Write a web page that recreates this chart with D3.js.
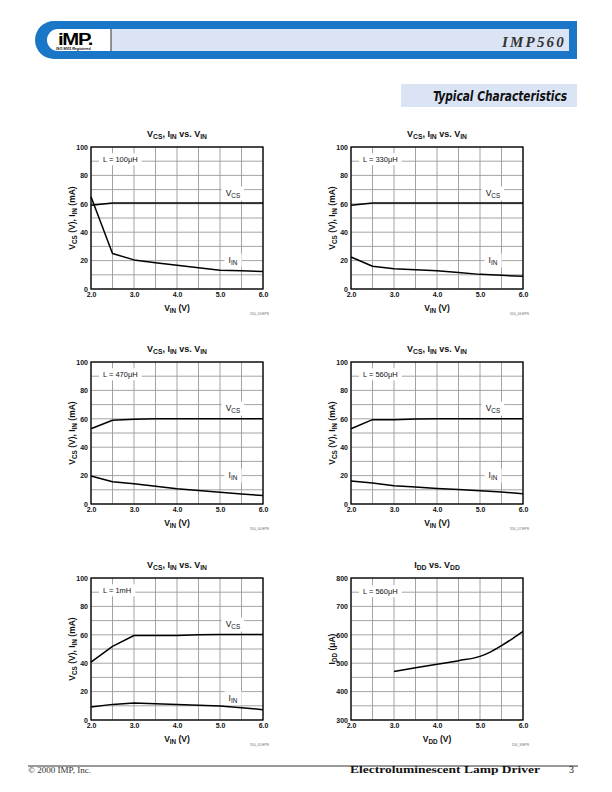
<!DOCTYPE html>
<html><head><meta charset="utf-8">
<script src="https://cdn.jsdelivr.net/npm/d3@7"></script>
<style>body{margin:0;background:#fff}svg{display:block}</style>
</head><body>
<script>
// ---- data ----
const vin = [2.0, 2.5, 3.0, 3.5, 4.0, 4.5, 5.0, 5.5, 6.0];
const vcs100 = [59, 60.5, 60.5, 60.5, 60.5, 60.5, 60.5, 60.5, 60.5];
const iin100 = [65, 25, 20.5, 18.5, 16.7, 15, 13.2, 12.8, 12.4];
const vcs330 = [59, 60.5, 60.5, 60.5, 60.5, 60.5, 60.5, 60.5, 60.5];
const iin330 = [22.5, 16, 14.3, 13.6, 12.9, 11.6, 10.3, 9.6, 9];
const vcs470 = [53, 59, 59.6, 60, 60, 60, 60, 60, 60];
const iin470 = [19.7, 15.7, 14.3, 12.5, 10.8, 9.5, 8.2, 7, 5.9];
const vcs560 = [53, 59.4, 59.4, 59.8, 60.1, 60.1, 60.1, 60.1, 60.1];
const iin560 = [16.2, 14.8, 12.9, 11.9, 11, 10.2, 9.4, 8.4, 7.3];
const vcs1m = [40.7, 51.8, 59.5, 59.5, 59.5, 60, 60.2, 60.2, 60.2];
const iin1m = [9.1, 11, 12, 11.5, 11, 10.4, 9.8, 8.6, 7.3];
const vdd = [3.0, 3.5, 4.0, 4.5, 5.0, 5.25, 5.5, 5.75, 6.0];
const idd = [471, 484, 496, 509, 524, 540, 562, 586, 612];
const xTickLabels = ["2.0", "3.0", "4.0", "5.0", "6.0"];
const inductors = ["L = 100\u03BCH", "L = 330\u03BCH", "L = 470\u03BCH", "L = 560\u03BCH", "L = 1mH", "L = 560\u03BCH"];
const fileCodes = ["550_03.EPS", "550_06.EPS", "550_04.EPS", "550_07.EPS", "550_05.EPS", "550_8.EPS"];

const svg = d3.select("body").append("svg").attr("width", 612).attr("height", 792);
svg.append("rect").attr("width", 612).attr("height", 792).attr("fill", "#fff");

// ---- header ----
const BLUE = "#1a76c6", LIGHT = "#dae4f4";
svg.append("path").attr("d", "M577,21 L54,21 A19,19 0 0 0 35,40 A19,19 0 0 0 54,59 L577,59 Z").attr("fill", BLUE);
svg.append("rect").attr("x", 111).attr("y", 29).attr("width", 458).attr("height", 22).attr("fill", LIGHT);
svg.append("path").attr("d", "M111,29 L58,29 A11,11 0 0 0 47,40 A11,11 0 0 0 58,51 L111,51 Z").attr("fill", "#fff");
svg.append("line").attr("x1", 111).attr("x2", 111).attr("y1", 29).attr("y2", 51).attr("stroke", "#000").attr("stroke-width", 0.8);
svg.append("text").attr("x", 58).attr("y", 45).attr("font-family", "Liberation Sans, Arial, sans-serif")
  .attr("font-weight", "bold").attr("font-size", 16).attr("letter-spacing", -1).attr("textLength", 34).attr("lengthAdjust", "spacingAndGlyphs").text("iMP.");
svg.append("text").attr("x", 56).attr("y", 49.5).attr("font-family", "Liberation Sans, Arial, sans-serif")
  .attr("font-weight", "bold").attr("font-style", "italic").attr("font-size", 3.6).text("ISO 9001 Registered");
svg.append("text").attr("x", 566).attr("y", 47).attr("text-anchor", "end")
  .attr("font-family", "Liberation Serif, Times New Roman, serif").attr("font-weight", "bold").attr("font-style", "italic")
  .attr("font-size", 15).attr("letter-spacing", 2.2).attr("fill", "#333").text("IMP560");

svg.append("rect").attr("x", 401).attr("y", 84).attr("width", 176).attr("height", 23).attr("fill", LIGHT);
svg.append("text").attr("x", 433).attr("y", 101).attr("textLength", 134).attr("lengthAdjust", "spacingAndGlyphs")
  .attr("font-family", "Liberation Sans Narrow, DejaVu Sans Condensed, Liberation Sans, sans-serif")
  .attr("font-weight", "bold").attr("font-style", "italic").attr("font-size", 14).attr("fill", "#111").text("Typical Characteristics");

// ---- helpers ----
const FONT = "Liberation Sans, Arial, Helvetica, sans-serif";
function richText(g, x, y, parts, size, anchor, weight) {
  const t = g.append("text").attr("x", x).attr("y", y).attr("text-anchor", anchor || "middle")
    .attr("font-family", FONT).attr("font-weight", weight || "bold").attr("font-size", size).attr("fill", "#111");
  let down = false;
  parts.forEach(p => {
    const ts = t.append("tspan").text(p[0]);
    if (p[1]) { ts.attr("font-size", size * 0.75); if (!down) { ts.attr("dy", size * 0.25); down = true; } }
    else { ts.attr("font-size", size); if (down) { ts.attr("dy", -size * 0.25); down = false; } }
  });
  return t;
}

function chart(opt) {
  const { x0, y0, w, h, xDom, yDom, yStep, yLabelStep, series, title, xTitle, yTitle, Ltext, labels, code, curve } = opt;
  const g = svg.append("g");
  const x = d3.scaleLinear().domain(xDom).range([x0, x0 + w]);
  const y = d3.scaleLinear().domain(yDom).range([y0 + h, y0]);
  const xGrid = d3.range(xDom[0], xDom[1] + 0.001, 0.5);
  const yGrid = d3.range(yDom[0], yDom[1] + 0.001, yStep);
  // grid
  g.append("g").selectAll("line").data(xGrid).join("line")
    .attr("x1", d => x(d)).attr("x2", d => x(d)).attr("y1", y0).attr("y2", y0 + h)
    .attr("stroke", "#9a9a9a").attr("stroke-width", 0.9);
  g.append("g").selectAll("line").data(yGrid).join("line")
    .attr("y1", d => y(d)).attr("y2", d => y(d)).attr("x1", x0).attr("x2", x0 + w)
    .attr("stroke", "#9a9a9a").attr("stroke-width", 0.9);
  // axes labels
  const xAxis = d3.axisBottom(x).tickValues(xTickLabels.map(Number)).tickSize(0).tickPadding(3).tickFormat(d => d.toFixed(1));
  const xa = g.append("g").attr("transform", `translate(0,${y0 + h})`).call(xAxis);
  xa.select(".domain").remove();
  xa.selectAll("text").attr("font-family", FONT).attr("font-weight", "bold").attr("font-size", 7).attr("fill", "#111");
  const yTicks = d3.range(yDom[0], yDom[1] + 0.001, yLabelStep);
  const yAxis = d3.axisLeft(y).tickValues(yTicks).tickSize(0).tickPadding(3).tickFormat(d3.format("d"));
  const ya = g.append("g").attr("transform", `translate(${x0},0)`).call(yAxis);
  ya.select(".domain").remove();
  ya.selectAll("text").attr("font-family", FONT).attr("font-weight", "bold").attr("font-size", 7).attr("fill", "#111");
  // label boxes
  const lg = g.append("g");
  function boxLabel(px, py, parts, size, anchor) {
    const t = richText(lg, px, py, parts, size, anchor, "normal");
    const bb = t.node().getBBox();
    lg.insert("rect", () => t.node()).attr("x", bb.x - 4).attr("y", bb.y - 1.5).attr("width", bb.width + 8).attr("height", bb.height + 3).attr("fill", "#fff");
    return t;
  }
  boxLabel(x(xDom[0]) + 12, y(opt.Ly) + 2.7, [[Ltext]], 7.5, "start");
  labels.forEach(l => boxLabel(x(l.x), y(l.y) + 3, l.parts, 8.5, "middle"));
  // lines
  const line = d3.line().x(d => x(d[0])).y(d => y(d[1])).curve(curve || d3.curveLinear);
  series.forEach(s => {
    g.append("path").datum(s.xs.map((v, i) => [v, s.ys[i]])).attr("d", line)
      .attr("fill", "none").attr("stroke", "#000").attr("stroke-width", 1.5).attr("stroke-linejoin", "round");
  });
  // frame
  g.append("rect").attr("x", x0).attr("y", y0).attr("width", w).attr("height", h)
    .attr("fill", "none").attr("stroke", "#000").attr("stroke-width", 1.3);
  // titles
  richText(g, x0 + w / 2, y0 - 10, title, 9, "middle", "bold");
  richText(g, x0 + w / 2, y0 + h + 22, xTitle, 8.5, "middle", "bold");
  const yt = richText(g, 0, 0, yTitle, 8.5, "middle", "bold");
  yt.attr("transform", `translate(${x0 - 16},${y0 + h / 2}) rotate(-90)`);
  g.append("text").attr("x", x0 + w + 6).attr("y", y0 + h + 26).attr("text-anchor", "end")
    .attr("font-family", FONT).attr("font-size", 3.4).attr("fill", "#666").text(code);
}

const vinTitle = [["V"], ["CS", 1], [", I"], ["IN", 1], [" vs. V"], ["IN", 1]];
const vinX = [["V"], ["IN", 1], [" (V)"]];
const vinY = [["V"], ["CS", 1], [" (V), I"], ["IN", 1], [" (mA)"]];
const lbl = (vy, iy) => [
  { x: 5.3, y: vy, parts: [["V"], ["CS", 1]] },
  { x: 5.3, y: iy, parts: [["I"], ["IN", 1]] }
];

const cols = [91, 351], rows = [147, 362, 578];
const W = 172, H = 142;
const sets = [[vcs100, iin100], [vcs330, iin330], [vcs470, iin470], [vcs560, iin560], [vcs1m, iin1m]];
sets.forEach((s, i) => {
  chart({
    x0: cols[i % 2], y0: rows[Math.floor(i / 2)], w: W, h: H,
    xDom: [2, 6], yDom: [0, 100], yStep: 10, yLabelStep: 20,
    series: [{ xs: vin, ys: s[0] }, { xs: vin, ys: s[1] }],
    title: vinTitle, xTitle: vinX, yTitle: vinY,
    Ltext: inductors[i], Ly: 91.5,
    labels: i === 4 ? lbl(67.7, 15.7) : lbl(67.6, 20.4),
    code: fileCodes[i]
  });
});
chart({
  x0: cols[1], y0: rows[2], w: W, h: H,
  xDom: [2, 6], yDom: [300, 800], yStep: 50, yLabelStep: 100,
  series: [{ xs: vdd, ys: idd }],
  title: [["I"], ["DD", 1], [" vs. V"], ["DD", 1]],
  xTitle: [["V"], ["DD", 1], [" (V)"]],
  yTitle: [["I"], ["DD", 1], [" (\u03BCA)"]],
  Ltext: inductors[5], Ly: 754,
  labels: [], code: fileCodes[5], curve: d3.curveMonotoneX
});

// ---- footer ----
svg.append("line").attr("x1", 28).attr("x2", 578).attr("y1", 766).attr("y2", 766).attr("stroke", "#000").attr("stroke-width", 0.8);
svg.append("text").attr("x", 28).attr("y", 773).attr("font-family", "Liberation Serif, serif").attr("font-size", 7.5)
  .attr("textLength", 63).attr("lengthAdjust", "spacingAndGlyphs").attr("fill", "#333").text("\u00A9 2000 IMP, Inc.");
svg.append("text").attr("x", 350).attr("y", 773).attr("font-family", "Liberation Serif, serif").attr("font-size", 10.5)
  .attr("font-weight", "bold").attr("textLength", 190).attr("lengthAdjust", "spacingAndGlyphs").attr("fill", "#111").text("Electroluminescent Lamp Driver");
svg.append("text").attr("x", 574).attr("y", 773).attr("text-anchor", "end").attr("font-family", "Liberation Serif, serif").attr("font-size", 10).attr("fill", "#111").text("3");
</script>
</body></html>
